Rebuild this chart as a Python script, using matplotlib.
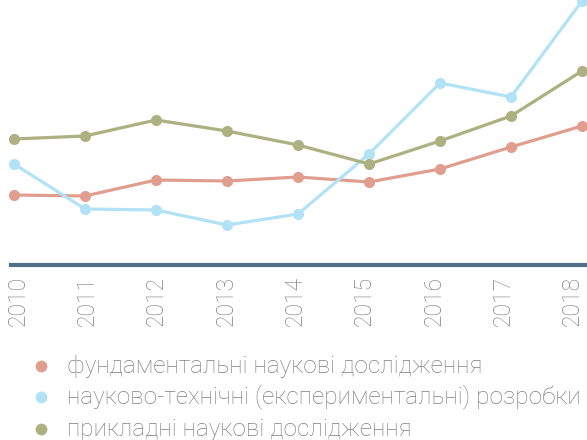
import matplotlib
matplotlib.use("Agg")
import matplotlib.pyplot as plt
from matplotlib.lines import Line2D

plt.rcParams['font.family'] = ['Roboto', 'DejaVu Sans']

# data (relative units)
years = [2010, 2011, 2012, 2013, 2014, 2015, 2016, 2017, 2018]
fundamental = [1.40, 1.38, 1.70, 1.68, 1.76, 1.66, 1.92, 2.36, 2.78]
experimental = [2.02, 1.12, 1.10, 0.80, 1.02, 2.22, 3.64, 3.36, 5.28]
applied = [2.52, 2.58, 2.90, 2.68, 2.40, 2.02, 2.48, 2.98, 3.88]

labels = ['фундаментальні наукові дослідження',
          'науково-технічні (експериментальні) розробки',
          'прикладні наукові дослідження']
colors = ['#e09e8e', '#b2e2f6', '#abb180']
axis_color = '#4e7187'
text_color = '#808080'

W, H = 587, 440
fig = plt.figure(figsize=(W / 100, H / 100), dpi=100)
# axes stretch past the right edge, like the cropped original
ax = fig.add_axes([11 / W, (H - 265) / H, 579 / W, 265 / H])

for vals, c in zip([fundamental, experimental, applied], colors):
    ax.plot(years, vals, color=c, lw=2.3, marker='o', ms=8,
            markeredgewidth=0, clip_on=False, zorder=3)

ax.set_xlim(2010 - 3 / 71, 2018 + 8 / 71)
ax.set_ylim(0, 5.3)

for s in ['top', 'right', 'left']:
    ax.spines[s].set_visible(False)
ax.spines['bottom'].set_color(axis_color)
ax.spines['bottom'].set_linewidth(3)
ax.set_yticks([])
# the year labels sit on a slightly tighter grid than the points
tick_pos = [2014 + (y - 2014) * 0.976 - 0.04 for y in years]
ax.set_xticks(tick_pos, [str(y) for y in years])
for lbl in ax.get_xticklabels():
    lbl.set_rotation(90)
    lbl.set_fontsize(16.5)
    lbl.set_fontweight('light')
    lbl.set_color(text_color)
ax.tick_params(axis='x', length=0, pad=8)

# legend drawn by hand: bullet + label per row
row_y = [366, 397, 429]
for lab, c, py in zip(labels, colors, row_y):
    fig.add_artist(Line2D([41 / W], [1 - py / H], ls='none', marker='o',
                          ms=8.5, color=c, markeredgewidth=0,
                          transform=fig.transFigure))
    fig.text(67 / W, 1 - py / H, lab, fontsize=17.6, fontweight='light',
             color=text_color, ha='left', va='center')

fig.savefig('out.png', dpi=100)
